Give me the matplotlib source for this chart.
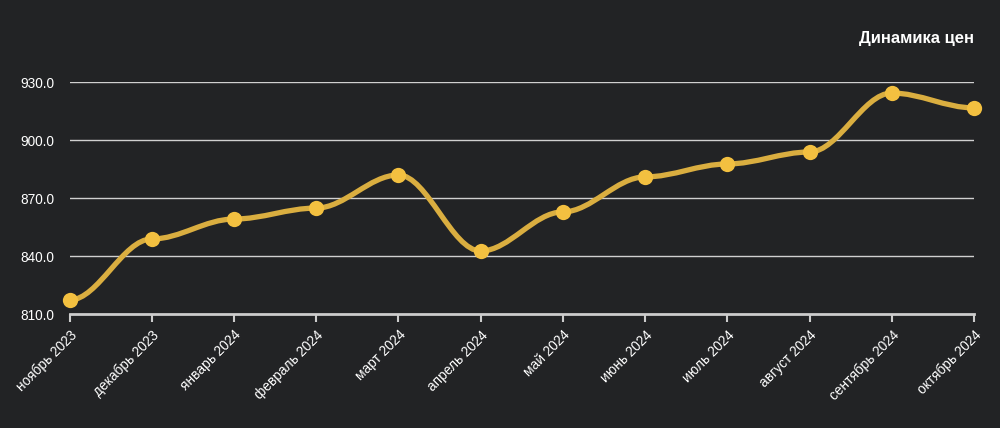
import matplotlib
matplotlib.use("Agg")
import matplotlib.pyplot as plt
from matplotlib.path import Path
from matplotlib.patches import PathPatch
import numpy as np

plt.rcParams['font.family'] = ['Liberation Sans', 'DejaVu Sans']

months = ["ноябрь 2023", "декабрь 2023", "январь 2024", "февраль 2024", "март 2024",
          "апрель 2024", "май 2024", "июнь 2024", "июль 2024", "август 2024",
          "сентябрь 2024", "октябрь 2024"]
prices = [817.2, 848.8, 859.1, 864.8, 881.9, 842.6, 862.8, 880.9, 887.6, 893.8, 924.3, 916.6]
yticks = [810, 840, 870, 900, 930]
title = "Динамика цен"

BG = "#222325"
LINE = "#DAAE40"
MARK = "#F3C040"

def smooth_path(xs, ys, k=0.35):
    verts = [(xs[0], ys[0])]
    codes = [Path.MOVETO]
    for i in range(1, len(xs)):
        px, py = xs[i - 1], ys[i - 1]
        cx, cy = xs[i], ys[i]
        length = (cx - px) * k
        verts += [(px + length, py), (cx - length, cy), (cx, cy)]
        codes += [Path.CURVE4] * 3
    return Path(verts, codes)

fig = plt.figure(figsize=(10, 4.28), dpi=100, facecolor=BG)
ax = fig.add_axes([0.0695, 1 - 314 / 428, 0.974 - 0.0695, (314 - 82) / 428])
ax.set_facecolor(BG)

x = np.arange(len(months))
ax.set_xlim(0, len(months) - 1)
ax.set_ylim(810, 930)

for yv in yticks[1:]:
    ax.axhline(yv, color="#d0d0d0", lw=1.0, zorder=1)

path = smooth_path(list(x), prices)
patch = PathPatch(path, facecolor="none", edgecolor=LINE, lw=3.8, zorder=3,
                  clip_on=False, capstyle="round", joinstyle="round")
ax.add_patch(patch)
ax.plot(x, prices, linestyle="none", marker="o", markersize=11, color=MARK,
        markeredgewidth=0, zorder=4, clip_on=False)

for s in ["top", "right", "left"]:
    ax.spines[s].set_visible(False)
ax.spines["bottom"].set_color("#cccccc")
ax.spines["bottom"].set_linewidth(2.0)

ax.set_xticks(x)
ax.set_xticklabels(months, rotation=45, ha="right", va="top", rotation_mode="anchor",
                   color="white", fontsize=9.8)
ax.tick_params(axis="x", colors="#cccccc", length=6, width=1.5, pad=4, labelcolor="white")
ax.set_yticks(yticks)
ax.set_yticklabels([f"{v:.1f}" for v in yticks], color="white", fontsize=9.8)
ax.tick_params(axis="y", length=0, pad=11, labelcolor="white")

fig.text(0.974, 1 - 38 / 428, title, ha="right", va="center", color="white",
         fontsize=12, fontweight="bold")

fig.savefig("out.png", dpi=100, facecolor=BG)
